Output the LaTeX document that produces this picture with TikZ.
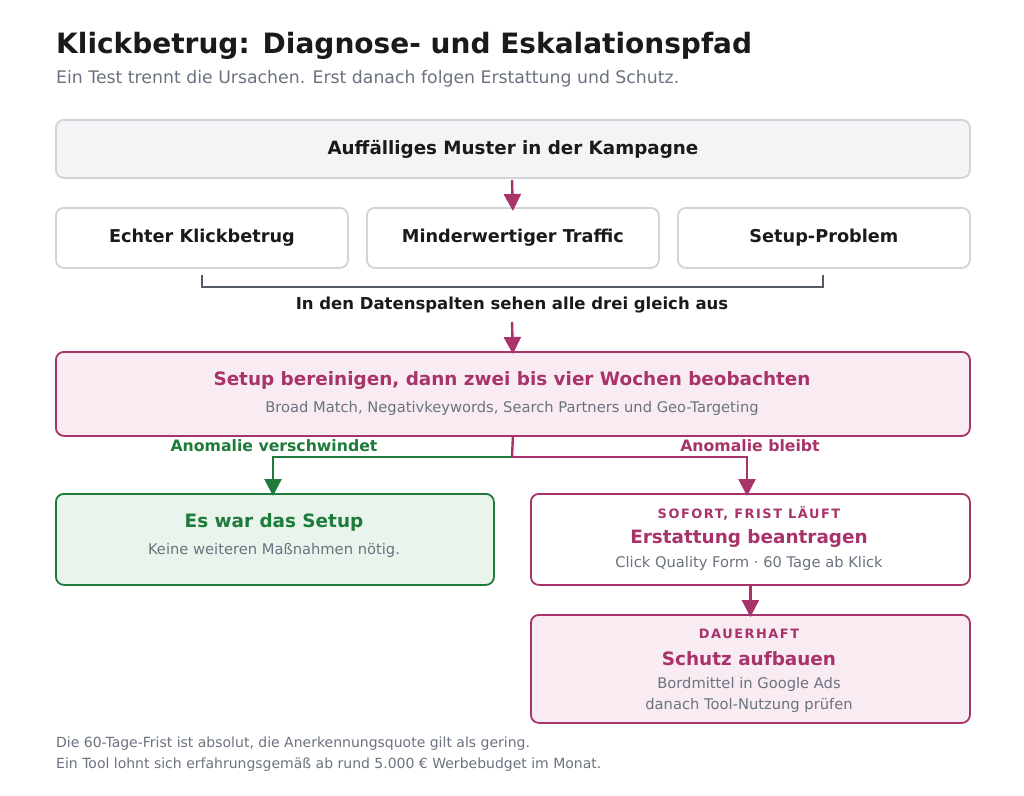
\documentclass[tikz,border=0pt]{standalone}
\usepackage{fontspec}
\setmainfont{DejaVu Sans}
\usetikzlibrary{arrows.meta,positioning}
\definecolor{mag}{HTML}{A8336B}
\definecolor{grn}{HTML}{1E7B3A}
\definecolor{pinkfill}{HTML}{F8EBF1}
\definecolor{grnfill}{HTML}{E9F4EC}
\definecolor{grayfill}{HTML}{F3F4F6}
\definecolor{grayline}{HTML}{D0D3D8}
\definecolor{txtgray}{HTML}{6B7280}
\definecolor{dark}{HTML}{1A1A1A}
\definecolor{brk}{HTML}{555B66}
\tikzset{
  box/.style={draw, rounded corners=8pt, line width=1.8pt, inner sep=0pt, anchor=north west},
  graybox/.style={box, draw=grayline, fill=grayfill},
  whitebox/.style={box, draw=grayline, fill=white},
  pinkbox/.style={box, draw=mag, fill=pinkfill},
  magwhite/.style={box, draw=mag, fill=white},
  grnbox/.style={box, draw=grn, fill=grnfill},
  lbl/.style={font=\bfseries\fontsize{17.7}{21}\selectfont, text=dark},
  ttl/.style={font=\bfseries\fontsize{18.4}{22}\selectfont},
  sub/.style={font=\fontsize{14.7}{17}\selectfont, text=txtgray},
  tag/.style={font=\bfseries\fontsize{12.9}{15}\selectfont\addfontfeature{LetterSpace=12}, text=mag},
  arr/.style={line width=2.4pt, -{Triangle[width=17pt,length=17pt]}},
  lne/.style={line width=2.4pt},
}
\begin{document}
\begin{tikzpicture}[x=1pt,y=-1pt]
\useasboundingbox[fill=white] (0,0) rectangle (1024,795);
% title
\node[anchor=base west, inner sep=0pt, font=\bfseries\fontsize{28}{32}\selectfont, text=dark] (title) at (56,53) {Klickbetrug: Diagnose- und Eskalationspfad};
\node[anchor=base west, inner sep=0pt, font=\fontsize{17.3}{20}\selectfont, text=txtgray] (subtitle) at (56,83) {Ein Test trennt die Ursachen. Erst danach folgen Erstattung und Schutz.};
% top box
\node[graybox, minimum width=914pt, minimum height=58pt] (top) at (55,119) {};
\node[font=\bfseries\fontsize{18.3}{22}\selectfont, text=dark] (toptxt) at (top.center) {Auffälliges Muster in der Kampagne};
% three boxes
\node[whitebox, minimum width=292pt, minimum height=60pt] (b1) at (55,207) {};
\node[whitebox, minimum width=292pt, minimum height=60pt] (b2) at (366,207) {};
\node[whitebox, minimum width=292pt, minimum height=60pt] (b3) at (677,207) {};
\node[lbl] (b1t) at (b1.center) {Echter Klickbetrug};
\node[lbl] (b2t) at (b2.center) {Minderwertiger Traffic};
\node[lbl] (b3t) at (b3.center) {Setup-Problem};
\coordinate (a1s) at (512,180);
\draw[arr, mag] (a1s) -- ([yshift=-4pt]b2.north);
% bracket
\coordinate (bl) at (202,275);
\coordinate (br) at (823,275);
\draw[line width=1.6pt, brk] (bl) -- (202,287) -- (823,287) -- (br);
\node[font=\bfseries\fontsize{16.5}{20}\selectfont, text=dark] (same) at (512,305) {In den Datenspalten sehen alle drei gleich aus};
% setup box
\node[pinkbox, minimum width=914pt, minimum height=84pt] (setup) at (55,351) {};
\coordinate (a2s) at (512,322);
\draw[arr, mag] (a2s) -- ([yshift=-3pt]setup.north);
\node[ttl, text=mag] (setupt) at (512,380) {Setup bereinigen, dann zwei bis vier Wochen beobachten};
\node[sub] (setups) at (512,408) {Broad Match, Negativkeywords, Search Partners und Geo-Targeting};
% bottom boxes
\node[grnbox, minimum width=438pt, minimum height=91pt] (ok) at (55,493) {};
\node[ttl, text=grn] (okt) at (274,522) {Es war das Setup};
\node[sub] (oks) at (274,550) {Keine weiteren Maßnahmen nötig.};
\node[magwhite, minimum width=439pt, minimum height=91pt] (refund) at (530,493) {};
\node[tag] (reftag) at (749,513) {SOFORT, FRIST LÄUFT};
\node[ttl, text=mag] (reft) at (749,538) {Erstattung beantragen};
\node[sub] (refs) at (749,563) {Click Quality Form · 60 Tage ab Klick};
\node[pinkbox, minimum width=439pt, minimum height=108pt] (protect) at (530,614) {};
\node[tag] (prottag) at (749,634) {DAUERHAFT};
\node[ttl, text=mag] (prott) at (749,659) {Schutz aufbauen};
\node[sub] (prots1) at (749,684) {Bordmittel in Google Ads};
\node[sub] (prots2) at (749,705) {danach Tool-Nutzung prüfen};
% branch connectors
\coordinate (split) at (512,457);
\draw[lne, mag] (setup.south) -- (split);
\draw[arr, grn] (split) -| ([yshift=-3pt]ok.north -| 273,0);
\draw[arr, mag] (split) -| ([yshift=-3pt]refund.north -| 747,0);
\draw[arr, mag] (refund.south) -- ([yshift=-3pt]protect.north);
\node[font=\bfseries\fontsize{15.7}{19}\selectfont, text=grn] (l1) at (274,446) {Anomalie verschwindet};
\node[font=\bfseries\fontsize{15.7}{19}\selectfont, text=mag] (l2) at (750,446) {Anomalie bleibt};
% footer
\node[anchor=base west, inner sep=0pt, font=\fontsize{14}{17}\selectfont, text=txtgray] (f1) at (56,747) {Die 60-Tage-Frist ist absolut, die Anerkennungsquote gilt als gering.};
\node[anchor=base west, inner sep=0pt, font=\fontsize{14}{17}\selectfont, text=txtgray] (f2) at (56,768) {Ein Tool lohnt sich erfahrungsgemäß ab rund 5.000 € Werbebudget im Monat.};
\end{tikzpicture}
\end{document}
